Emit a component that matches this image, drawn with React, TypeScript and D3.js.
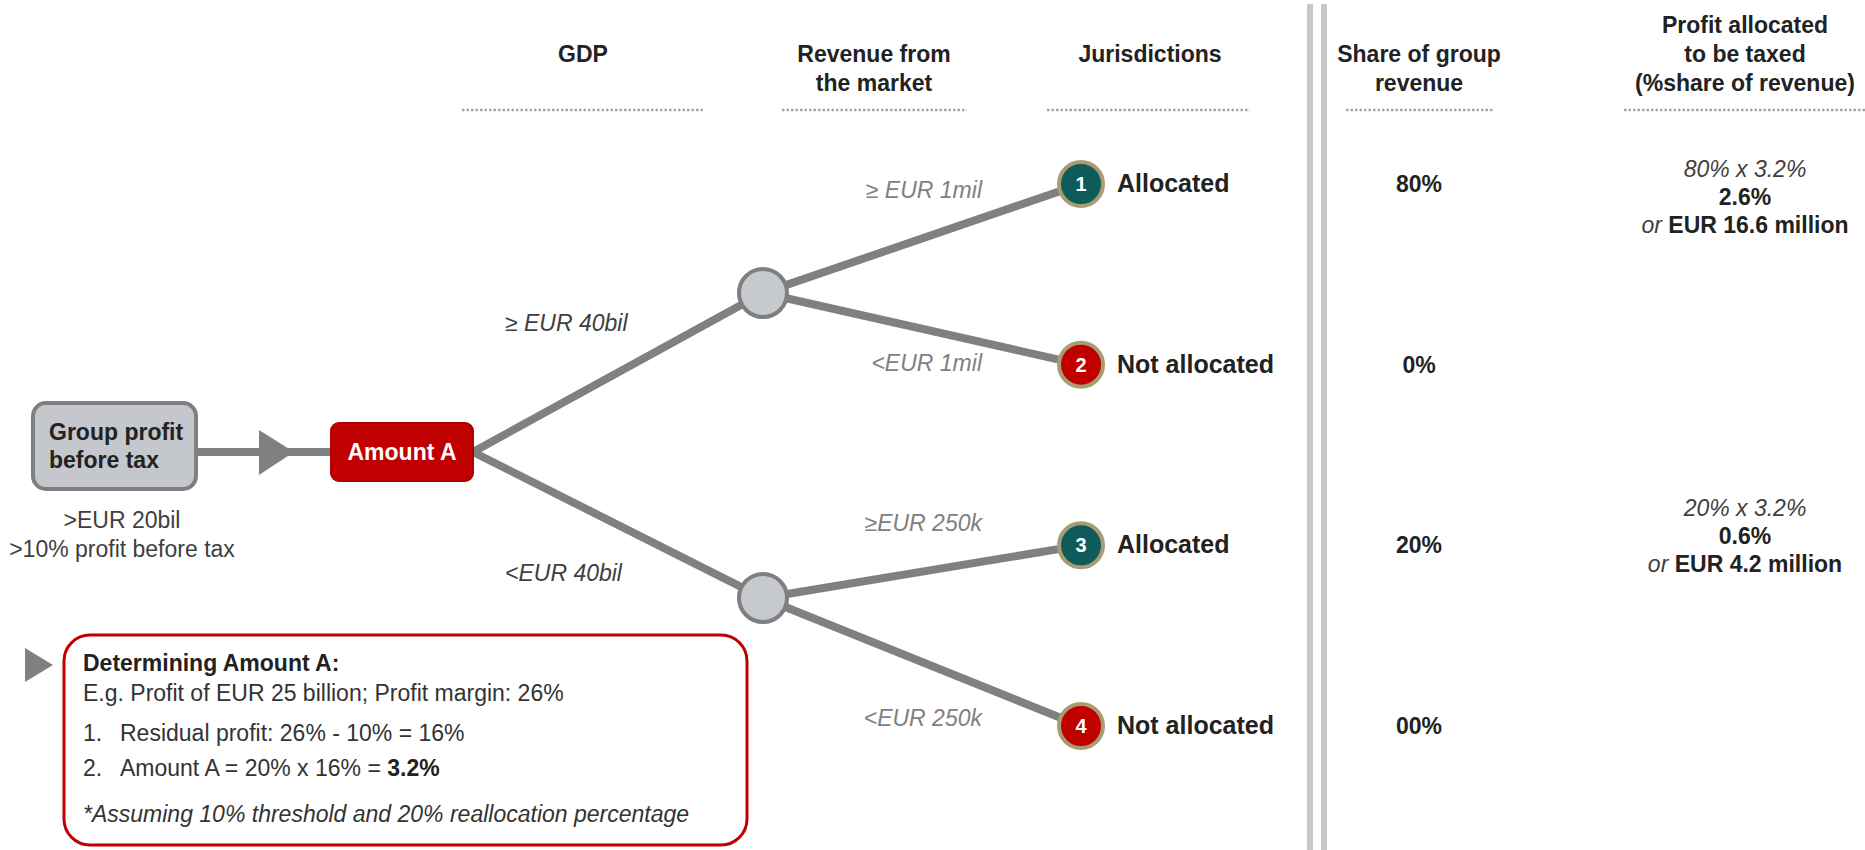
import React from "react";
import * as d3 from "d3";

// column headers (one array entry per column, lines inside)
const columnKeys = ["gdp", "revenue", "jurisdictions", "share", "profit"];
const columnHeaders = [
  ["GDP"],
  ["Revenue from", "the market"],
  ["Jurisdictions"],
  ["Share of group", "revenue"],
  ["Profit allocated", "to be taxed", "(%share of revenue)"],
];

const groupTitle = ["Group profit", "before tax"];
const groupCriteria = [">EUR 20bil", ">10% profit before tax"];
const amountLabel = "Amount A";

const gdpThresholds = ["≥ EUR 40bil", "<EUR 40bil"];
const revenueThresholds = ["≥ EUR 1mil", "<EUR 1mil", "≥EUR 250k", "<EUR 250k"];
const jurisdictionIds = ["1", "2", "3", "4"];
const jurisdictionStatus = ["Allocated", "Not allocated", "Allocated", "Not allocated"];
const jurisdictionAllocated = [true, false, true, false];
const shareOfRevenue = ["80%", "0%", "20%", "00%"];

const profitRows = [0, 2];
const profitFormulas = ["80% x 3.2%", "20% x 3.2%"];
const profitShares = ["2.6%", "0.6%"];
const profitAmounts = ["EUR 16.6 million", "EUR 4.2 million"];

const exampleTitle = "Determining Amount A:";
const exampleIntro = "E.g. Profit of EUR 25 billion; Profit margin: 26%";
const exampleSteps = ["Residual profit: 26% - 10% = 16%", "Amount A = 20% x 16% = "];
const exampleResult = "3.2%";
const exampleNote = "*Assuming 10% threshold and 20% reallocation percentage";

const FONT = "'Liberation Sans', Arial, Helvetica, sans-serif";
const RED = "#c00000";
const TEAL = "#0e5b5c";
const LINE = "#808080";
const TXT = "#222222";

const W = 1865;
const H = 850;

const App = () => {
  const colX = d3.scaleOrdinal<string, number>().domain(columnKeys).range([583, 874, 1150, 1419, 1745]);
  const ruleExtent = d3
    .scaleOrdinal<string, [number, number]>()
    .domain(columnKeys)
    .range([[462, 705], [782, 967], [1047, 1250], [1346, 1493], [1624, 1865]]);
  const levelX = d3.scaleOrdinal<string, number>().domain(["amount", "gdp", "jur"]).range([473, 763, 1081]);
  const rowY = d3.scaleLinear().domain([0, 3]).range([184, 726]);
  const gdpY = d3.scaleLinear().domain([0, 1]).range([293, 598]);
  const lineGen = d3.line<[number, number]>();
  const amountY = 452;
  const profitOffset = [21, -1];
  const revenueLabelOffset = [14, 6, -14, 0];

  const branches: [number, number][][] = [];
  gdpThresholds.forEach((_, i) => branches.push([[levelX("amount"), amountY], [levelX("gdp"), gdpY(i)]]));
  jurisdictionIds.forEach((_, i) =>
    branches.push([[levelX("gdp"), gdpY(Math.floor(i / 2))], [levelX("jur"), rowY(i)]])
  );

  return (
    <svg
      width={W}
      height={H}
      style={{ position: "absolute", left: 0, top: 0, background: "#fff" }}
      fontFamily={FONT}
    >
      {/* headers */}
      {columnHeaders.map((lines, ci) => {
        const key = columnKeys[ci];
        const y0 = 62 - Math.max(0, lines.length - 2) * 29;
        const [x0, x1] = ruleExtent(key);
        return (
          <g key={key}>
            {lines.map((t, li) => (
              <text key={li} x={colX(key)} y={y0 + li * 29} textAnchor="middle" fontSize={23} fontWeight="bold" fill={TXT}>
                {t}
              </text>
            ))}
            <line x1={x0} x2={x1} y1={110} y2={110} stroke="#a6a6a6" strokeWidth={2.5} strokeDasharray="2.5,2" />
          </g>
        );
      })}

      {/* double separator */}
      {[1310, 1324].map((x) => (
        <line key={x} x1={x} x2={x} y1={4} y2={H} stroke="#c8c8c8" strokeWidth={6} />
      ))}

      {/* group profit box and arrow */}
      <line x1={197} x2={331} y1={amountY} y2={amountY} stroke={LINE} strokeWidth={8} />
      <polygon points={`259,430 294,${amountY} 259,475`} fill={LINE} />
      <rect x={33} y={403} width={163} height={86} rx={13} fill="#c4c7cb" stroke="#7f7f7f" strokeWidth={4} />
      {groupTitle.map((t, i) => (
        <text key={t} x={49} y={440 + i * 28} fontSize={23} fontWeight="bold" fill={TXT}>
          {t}
        </text>
      ))}
      {groupCriteria.map((t, i) => (
        <text key={t} x={122} y={528 + i * 29} textAnchor="middle" fontSize={23} fill="#404040">
          {t}
        </text>
      ))}

      {/* tree branches */}
      {branches.map((pts, i) => (
        <path key={i} d={lineGen(pts) || ""} stroke={LINE} strokeWidth={8} fill="none" />
      ))}

      {/* Amount A */}
      <rect x={331} y={423} width={142} height={58} rx={8} fill={RED} stroke="#b00000" strokeWidth={2} />
      <text x={402} y={460} textAnchor="middle" fontSize={23} fontWeight="bold" fill="#fff">
        {amountLabel}
      </text>

      {/* GDP split */}
      {gdpThresholds.map((t, i) => (
        <g key={t}>
          <circle cx={levelX("gdp")} cy={gdpY(i)} r={24} fill="#c6c9cd" stroke="#7f7f7f" strokeWidth={4} />
          <text x={505} y={[331, 581][i]} fontSize={23} fontStyle="italic" fill="#404040">
            {t}
          </text>
        </g>
      ))}

      {/* jurisdictions */}
      {jurisdictionIds.map((id, i) => (
        <g key={id}>
          <text x={982} y={rowY(i) + revenueLabelOffset[i]} textAnchor="end" fontSize={23} fontStyle="italic" fill="#808080">
            {revenueThresholds[i]}
          </text>
          <circle
            cx={levelX("jur")}
            cy={rowY(i)}
            r={22}
            fill={jurisdictionAllocated[i] ? TEAL : RED}
            stroke="#a89c72"
            strokeWidth={4}
          />
          <text x={levelX("jur")} y={rowY(i) + 7} textAnchor="middle" fontSize={20} fontWeight="bold" fill="#fff">
            {id}
          </text>
          <text x={1117} y={rowY(i) + 8} fontSize={25} fontWeight="bold" fill={TXT}>
            {jurisdictionStatus[i]}
          </text>
          <text x={colX("share")} y={rowY(i) + 8} textAnchor="middle" fontSize={23} fontWeight="bold" fill={TXT}>
            {shareOfRevenue[i]}
          </text>
        </g>
      ))}

      {/* profit allocated */}
      {profitRows.map((r, i) => {
        const yc = rowY(r) + profitOffset[i];
        return (
          <g key={r}>
            <text x={colX("profit")} y={yc - 28} textAnchor="middle" fontSize={23} fontStyle="italic" fill="#404040">
              {profitFormulas[i]}
            </text>
            <text x={colX("profit")} y={yc} textAnchor="middle" fontSize={23} fontWeight="bold" fill={TXT}>
              {profitShares[i]}
            </text>
            <text x={colX("profit")} y={yc + 28} textAnchor="middle" fontSize={23} fill={TXT}>
              <tspan fontStyle="italic" fill="#404040">or </tspan>
              <tspan fontWeight="bold">{profitAmounts[i]}</tspan>
            </text>
          </g>
        );
      })}

      {/* example box */}
      <polygon points="25,648 53,665 25,682" fill={LINE} />
      <rect x={64} y={635} width={683} height={210} rx={26} fill="#fff" stroke={RED} strokeWidth={3} />
      <text x={83} y={671} fontSize={23} fontWeight="bold" fill={TXT}>
        {exampleTitle}
      </text>
      <text x={83} y={701} fontSize={23} fill="#333">
        {exampleIntro}
      </text>
      {exampleSteps.map((s, i) => (
        <g key={i}>
          <text x={83} y={741 + i * 35} fontSize={23} fill="#333">
            {`${i + 1}.`}
          </text>
          <text x={120} y={741 + i * 35} fontSize={23} fill="#333">
            {s}
            {i === exampleSteps.length - 1 && <tspan fontWeight="bold" fill={TXT}>{exampleResult}</tspan>}
          </text>
        </g>
      ))}
      <text x={83} y={822} fontSize={23} fontStyle="italic" fill="#333">
        {exampleNote}
      </text>
    </svg>
  );
};

export default App;
